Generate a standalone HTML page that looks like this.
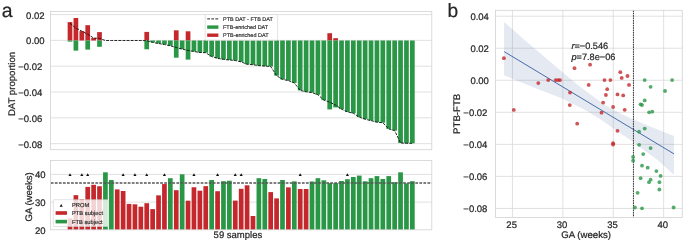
<!DOCTYPE html>
<html>
<head>
<meta charset="utf-8">
<title>Figure</title>
<style>
html,body{margin:0;padding:0;background:#fff;}
svg{display:block;will-change:transform;}
text{font-family:"Liberation Sans",sans-serif;fill:#262626;text-rendering:geometricPrecision;stroke:#262626;stroke-width:0.22px;}
</style>
</head>
<body>
<svg width="685" height="243" viewBox="0 0 685 243">
<rect x="0" y="0" width="685" height="243" fill="#fff"/>
<rect x="50.4" y="11.4" width="381.40" height="138.30" fill="#fff" stroke="none"/>
<line x1="50.4" x2="431.8" y1="143.66" y2="143.66" stroke="#d9d9d9" stroke-width="0.8"/>
<line x1="50.4" x2="431.8" y1="117.84" y2="117.84" stroke="#d9d9d9" stroke-width="0.8"/>
<line x1="50.4" x2="431.8" y1="92.02" y2="92.02" stroke="#d9d9d9" stroke-width="0.8"/>
<line x1="50.4" x2="431.8" y1="66.20" y2="66.20" stroke="#d9d9d9" stroke-width="0.8"/>
<line x1="50.4" x2="431.8" y1="40.38" y2="40.38" stroke="#d9d9d9" stroke-width="0.8"/>
<line x1="50.4" x2="431.8" y1="14.56" y2="14.56" stroke="#d9d9d9" stroke-width="0.8"/>
<rect x="67.65" y="22.10" width="4.7" height="18.40" fill="#c4282c"/>
<rect x="67.65" y="40.50" width="4.7" height="1.10" fill="#2a9747"/>
<rect x="73.55" y="18.00" width="4.7" height="22.50" fill="#c4282c"/>
<rect x="73.55" y="40.50" width="4.7" height="10.15" fill="#2a9747"/>
<rect x="79.46" y="31.10" width="4.7" height="9.40" fill="#c4282c"/>
<rect x="85.36" y="25.20" width="4.7" height="15.30" fill="#c4282c"/>
<rect x="85.36" y="40.50" width="4.7" height="9.10" fill="#2a9747"/>
<rect x="91.26" y="38.00" width="4.7" height="2.50" fill="#c4282c"/>
<rect x="97.16" y="32.10" width="4.7" height="8.40" fill="#c4282c"/>
<rect x="97.16" y="40.50" width="4.7" height="6.30" fill="#2a9747"/>
<rect x="144.38" y="31.90" width="4.7" height="8.60" fill="#c4282c"/>
<rect x="144.38" y="40.50" width="4.7" height="8.80" fill="#2a9747"/>
<rect x="150.29" y="40.50" width="4.7" height="1.90" fill="#2a9747"/>
<rect x="156.19" y="40.50" width="4.7" height="3.00" fill="#2a9747"/>
<rect x="162.09" y="40.50" width="4.7" height="4.00" fill="#2a9747"/>
<rect x="167.99" y="40.50" width="4.7" height="5.30" fill="#2a9747"/>
<rect x="173.90" y="30.30" width="4.7" height="10.20" fill="#c4282c"/>
<rect x="173.90" y="40.50" width="4.7" height="17.20" fill="#2a9747"/>
<rect x="179.80" y="40.50" width="4.7" height="8.60" fill="#2a9747"/>
<rect x="185.70" y="31.30" width="4.7" height="9.20" fill="#c4282c"/>
<rect x="185.70" y="40.50" width="4.7" height="19.10" fill="#2a9747"/>
<rect x="191.60" y="40.50" width="4.7" height="11.00" fill="#2a9747"/>
<rect x="197.51" y="40.50" width="4.7" height="12.00" fill="#2a9747"/>
<rect x="203.41" y="40.50" width="4.7" height="12.20" fill="#2a9747"/>
<rect x="209.31" y="40.50" width="4.7" height="16.00" fill="#2a9747"/>
<rect x="215.22" y="40.50" width="4.7" height="17.80" fill="#2a9747"/>
<rect x="221.12" y="40.50" width="4.7" height="18.90" fill="#2a9747"/>
<rect x="227.02" y="40.50" width="4.7" height="19.50" fill="#2a9747"/>
<rect x="232.92" y="40.50" width="4.7" height="20.00" fill="#2a9747"/>
<rect x="238.83" y="40.50" width="4.7" height="21.40" fill="#2a9747"/>
<rect x="244.73" y="40.50" width="4.7" height="23.75" fill="#2a9747"/>
<rect x="250.63" y="40.50" width="4.7" height="24.25" fill="#2a9747"/>
<rect x="256.53" y="40.50" width="4.7" height="25.10" fill="#2a9747"/>
<rect x="262.44" y="40.50" width="4.7" height="25.60" fill="#2a9747"/>
<rect x="268.34" y="40.50" width="4.7" height="26.00" fill="#2a9747"/>
<rect x="274.24" y="40.50" width="4.7" height="35.15" fill="#2a9747"/>
<rect x="280.14" y="40.50" width="4.7" height="38.90" fill="#2a9747"/>
<rect x="286.05" y="40.50" width="4.7" height="40.10" fill="#2a9747"/>
<rect x="291.95" y="40.50" width="4.7" height="42.40" fill="#2a9747"/>
<rect x="297.85" y="40.50" width="4.7" height="49.90" fill="#2a9747"/>
<rect x="303.75" y="40.50" width="4.7" height="51.30" fill="#2a9747"/>
<rect x="309.66" y="40.50" width="4.7" height="52.10" fill="#2a9747"/>
<rect x="315.56" y="40.50" width="4.7" height="54.20" fill="#2a9747"/>
<rect x="321.46" y="40.50" width="4.7" height="59.60" fill="#2a9747"/>
<rect x="327.36" y="33.20" width="4.7" height="7.30" fill="#c4282c"/>
<rect x="327.36" y="40.50" width="4.7" height="68.90" fill="#2a9747"/>
<rect x="333.27" y="38.20" width="4.7" height="2.30" fill="#c4282c"/>
<rect x="333.27" y="40.50" width="4.7" height="66.90" fill="#2a9747"/>
<rect x="339.17" y="40.50" width="4.7" height="68.60" fill="#2a9747"/>
<rect x="345.07" y="40.50" width="4.7" height="71.40" fill="#2a9747"/>
<rect x="350.97" y="40.50" width="4.7" height="72.70" fill="#2a9747"/>
<rect x="356.88" y="40.50" width="4.7" height="76.60" fill="#2a9747"/>
<rect x="362.78" y="40.50" width="4.7" height="78.70" fill="#2a9747"/>
<rect x="368.68" y="40.50" width="4.7" height="80.10" fill="#2a9747"/>
<rect x="374.59" y="40.50" width="4.7" height="81.70" fill="#2a9747"/>
<rect x="380.49" y="40.50" width="4.7" height="82.20" fill="#2a9747"/>
<rect x="386.39" y="40.50" width="4.7" height="88.40" fill="#2a9747"/>
<rect x="392.29" y="40.50" width="4.7" height="90.10" fill="#2a9747"/>
<rect x="398.20" y="40.50" width="4.7" height="102.50" fill="#2a9747"/>
<rect x="404.10" y="40.50" width="4.7" height="102.80" fill="#2a9747"/>
<rect x="410.00" y="40.50" width="4.7" height="102.80" fill="#2a9747"/>
<rect x="205.2" y="14.6" width="72.4" height="25.6" rx="1" fill="#fff" fill-opacity="0.8" stroke="#d0d0d0" stroke-width="0.6"/>
<path d="M70.00,23.20 L75.90,28.15 L81.81,31.10 L87.71,34.30 L93.61,38.00 L99.51,38.40 L105.42,40.50 L111.32,40.50 L117.22,40.50 L123.12,40.50 L129.03,40.50 L134.93,40.50 L140.83,40.50 L146.73,40.70 L152.64,42.40 L158.54,43.50 L164.44,44.50 L170.34,45.80 L176.25,47.50 L182.15,49.10 L188.05,50.40 L193.95,51.50 L199.86,52.50 L205.76,52.70 L211.66,56.50 L217.56,58.30 L223.47,59.40 L229.37,60.00 L235.27,60.50 L241.18,61.90 L247.08,64.25 L252.98,64.75 L258.88,65.60 L264.79,66.10 L270.69,66.50 L276.59,75.65 L282.49,79.40 L288.40,80.60 L294.30,82.90 L300.20,90.40 L306.10,91.80 L312.01,92.60 L317.91,94.70 L323.81,100.10 L329.71,102.10 L335.62,105.10 L341.52,109.10 L347.42,111.90 L353.32,113.20 L359.23,117.10 L365.13,119.20 L371.03,120.60 L376.94,122.20 L382.84,122.70 L388.74,128.90 L394.64,130.60 L400.55,143.00 L406.45,143.30 L412.35,143.30" fill="none" stroke="#111" stroke-width="0.9" stroke-dasharray="2.85 1.24"/>
<rect x="50.4" y="11.4" width="381.40" height="138.30" fill="none" stroke="#d2d2d2" stroke-width="0.8"/>
<line x1="207.2" x2="218.4" y1="18.9" y2="18.9" stroke="#111" stroke-width="0.9" stroke-dasharray="2.85 1.24"/>
<rect x="207.2" y="25.4" width="11.2" height="3.4" fill="#2a9747"/>
<rect x="207.2" y="33.5" width="11.2" height="3.4" fill="#c4282c"/>
<text x="223.0" y="20.7" style="stroke-width:0.15px" font-size="5.48">PTB DAT - FTB DAT</text>
<text x="223.0" y="29.05" style="stroke-width:0.15px" font-size="5.48">FTB-enriched DAT</text>
<text x="223.0" y="37.2" style="stroke-width:0.15px" font-size="5.48">PTB-enriched DAT</text>
<text x="44.6" y="18.63" text-anchor="end" font-size="9.5">0.02</text>
<text x="44.6" y="44.45" text-anchor="end" font-size="9.5">0.00</text>
<text x="42.3" y="70.07" text-anchor="end" font-size="9.5">−0.02</text>
<text x="42.3" y="95.89" text-anchor="end" font-size="9.5">−0.04</text>
<text x="42.3" y="121.71" text-anchor="end" font-size="9.5">−0.06</text>
<text x="42.3" y="147.53" text-anchor="end" font-size="9.5">−0.08</text>
<text transform="translate(15.1,116.1) rotate(-90)" font-size="9.6">DAT proportion</text>
<text x="1.8" y="17.0" font-size="19.4">a</text>
<rect x="50.4" y="160.4" width="381.40" height="69.40" fill="#fff"/>
<line x1="50.4" x2="431.8" y1="174.4" y2="174.4" stroke="#d9d9d9" stroke-width="0.8"/>
<line x1="50.4" x2="431.8" y1="202.1" y2="202.1" stroke="#d9d9d9" stroke-width="0.8"/>
<rect x="67.65" y="218.35" width="4.7" height="11.45" fill="#c4282c"/>
<rect x="73.55" y="195.15" width="4.7" height="34.65" fill="#c4282c"/>
<rect x="79.46" y="199.30" width="4.7" height="30.50" fill="#c4282c"/>
<rect x="85.36" y="186.90" width="4.7" height="42.90" fill="#c4282c"/>
<rect x="91.26" y="184.80" width="4.7" height="45.00" fill="#c4282c"/>
<rect x="97.16" y="186.25" width="4.7" height="43.55" fill="#c4282c"/>
<rect x="103.07" y="172.30" width="4.7" height="57.50" fill="#2a9747"/>
<rect x="108.97" y="180.00" width="4.7" height="49.80" fill="#2a9747"/>
<rect x="114.87" y="189.40" width="4.7" height="40.40" fill="#c4282c"/>
<rect x="120.77" y="191.00" width="4.7" height="38.80" fill="#c4282c"/>
<rect x="126.68" y="203.90" width="4.7" height="25.90" fill="#c4282c"/>
<rect x="132.58" y="204.30" width="4.7" height="25.50" fill="#c4282c"/>
<rect x="138.48" y="206.70" width="4.7" height="23.10" fill="#c4282c"/>
<rect x="144.38" y="203.20" width="4.7" height="26.60" fill="#c4282c"/>
<rect x="150.29" y="209.10" width="4.7" height="20.70" fill="#c4282c"/>
<rect x="156.19" y="195.35" width="4.7" height="34.45" fill="#c4282c"/>
<rect x="162.09" y="184.05" width="4.7" height="45.75" fill="#c4282c"/>
<rect x="167.99" y="178.20" width="4.7" height="51.60" fill="#2a9747"/>
<rect x="173.90" y="190.20" width="4.7" height="39.60" fill="#c4282c"/>
<rect x="179.80" y="174.30" width="4.7" height="55.50" fill="#2a9747"/>
<rect x="185.70" y="200.70" width="4.7" height="29.10" fill="#c4282c"/>
<rect x="191.60" y="187.25" width="4.7" height="42.55" fill="#c4282c"/>
<rect x="197.51" y="190.70" width="4.7" height="39.10" fill="#c4282c"/>
<rect x="203.41" y="186.15" width="4.7" height="43.65" fill="#c4282c"/>
<rect x="209.31" y="180.00" width="4.7" height="49.80" fill="#2a9747"/>
<rect x="215.22" y="191.20" width="4.7" height="38.60" fill="#c4282c"/>
<rect x="221.12" y="181.20" width="4.7" height="48.60" fill="#2a9747"/>
<rect x="227.02" y="180.70" width="4.7" height="49.10" fill="#2a9747"/>
<rect x="232.92" y="200.60" width="4.7" height="29.20" fill="#c4282c"/>
<rect x="238.83" y="188.80" width="4.7" height="41.00" fill="#c4282c"/>
<rect x="244.73" y="185.30" width="4.7" height="44.50" fill="#c4282c"/>
<rect x="250.63" y="216.00" width="4.7" height="13.80" fill="#c4282c"/>
<rect x="256.53" y="178.20" width="4.7" height="51.60" fill="#2a9747"/>
<rect x="262.44" y="179.00" width="4.7" height="50.80" fill="#2a9747"/>
<rect x="268.34" y="192.10" width="4.7" height="37.70" fill="#c4282c"/>
<rect x="274.24" y="198.40" width="4.7" height="31.40" fill="#c4282c"/>
<rect x="280.14" y="180.00" width="4.7" height="49.80" fill="#2a9747"/>
<rect x="286.05" y="187.35" width="4.7" height="42.45" fill="#c4282c"/>
<rect x="291.95" y="181.40" width="4.7" height="48.40" fill="#2a9747"/>
<rect x="297.85" y="189.00" width="4.7" height="40.80" fill="#c4282c"/>
<rect x="303.75" y="189.00" width="4.7" height="40.80" fill="#c4282c"/>
<rect x="309.66" y="181.50" width="4.7" height="48.30" fill="#2a9747"/>
<rect x="315.56" y="178.20" width="4.7" height="51.60" fill="#2a9747"/>
<rect x="321.46" y="180.30" width="4.7" height="49.50" fill="#2a9747"/>
<rect x="327.36" y="183.10" width="4.7" height="46.70" fill="#2a9747"/>
<rect x="333.27" y="183.10" width="4.7" height="46.70" fill="#2a9747"/>
<rect x="339.17" y="181.00" width="4.7" height="48.80" fill="#2a9747"/>
<rect x="345.07" y="179.20" width="4.7" height="50.60" fill="#2a9747"/>
<rect x="350.97" y="177.00" width="4.7" height="52.80" fill="#2a9747"/>
<rect x="356.88" y="175.60" width="4.7" height="54.20" fill="#2a9747"/>
<rect x="362.78" y="181.30" width="4.7" height="48.50" fill="#2a9747"/>
<rect x="368.68" y="178.20" width="4.7" height="51.60" fill="#2a9747"/>
<rect x="374.59" y="176.10" width="4.7" height="53.70" fill="#2a9747"/>
<rect x="380.49" y="179.00" width="4.7" height="50.80" fill="#2a9747"/>
<rect x="386.39" y="176.10" width="4.7" height="53.70" fill="#2a9747"/>
<rect x="392.29" y="182.30" width="4.7" height="47.50" fill="#2a9747"/>
<rect x="398.20" y="172.30" width="4.7" height="57.50" fill="#2a9747"/>
<rect x="404.10" y="183.30" width="4.7" height="46.50" fill="#2a9747"/>
<rect x="410.00" y="181.20" width="4.7" height="48.60" fill="#2a9747"/>
<line x1="50.4" x2="431.8" y1="182.95" y2="182.95" stroke="#555" stroke-width="1.55" stroke-dasharray="2.75 1.3" stroke-dashoffset="-0.4"/>
<path d="M70.00,173.2 L71.55,176.0 L68.45,176.0 Z" fill="#111"/>
<path d="M81.81,173.2 L83.36,176.0 L80.26,176.0 Z" fill="#111"/>
<path d="M87.71,173.2 L89.26,176.0 L86.16,176.0 Z" fill="#111"/>
<path d="M123.12,173.2 L124.67,176.0 L121.57,176.0 Z" fill="#111"/>
<path d="M134.93,173.2 L136.48,176.0 L133.38,176.0 Z" fill="#111"/>
<path d="M146.73,173.2 L148.28,176.0 L145.18,176.0 Z" fill="#111"/>
<path d="M164.44,173.2 L165.99,176.0 L162.89,176.0 Z" fill="#111"/>
<path d="M193.95,173.2 L195.50,176.0 L192.40,176.0 Z" fill="#111"/>
<path d="M217.56,173.2 L219.12,176.0 L216.01,176.0 Z" fill="#111"/>
<path d="M235.27,173.2 L236.82,176.0 L233.72,176.0 Z" fill="#111"/>
<path d="M241.18,173.2 L242.73,176.0 L239.63,176.0 Z" fill="#111"/>
<path d="M300.20,173.2 L301.75,176.0 L298.65,176.0 Z" fill="#111"/>
<path d="M347.42,173.2 L348.97,176.0 L345.87,176.0 Z" fill="#111"/>
<rect x="50.4" y="160.4" width="381.40" height="69.40" fill="none" stroke="#d2d2d2" stroke-width="0.8"/>
<rect x="53.3" y="199.7" width="55.3" height="26.8" rx="1" fill="#fff" fill-opacity="0.8" stroke="#d0d0d0" stroke-width="0.6"/>
<path d="M61.2,204.0 L62.75,206.8 L59.65,206.8 Z" fill="#111"/>
<rect x="55.6" y="211.2" width="11.4" height="3.6" fill="#c4282c"/>
<rect x="55.6" y="219.8" width="11.4" height="3.6" fill="#2a9747"/>
<text x="72.0" y="207.4" style="stroke-width:0.15px" font-size="5.75">PROM</text>
<text x="72.0" y="215.1" style="stroke-width:0.15px" font-size="5.75">PTB subject</text>
<text x="72.0" y="223.6" style="stroke-width:0.15px" font-size="5.75">FTB subject</text>
<text x="45.5" y="178.40" text-anchor="end" font-size="9.5">40</text>
<text x="45.5" y="206.10" text-anchor="end" font-size="9.5">30</text>
<text x="45.5" y="233.80" text-anchor="end" font-size="9.5">20</text>
<text transform="translate(32.2,221.4) rotate(-90)" font-size="9.5">GA (weeks)</text>
<text x="213.6" y="237.7" font-size="9.5">59 samples</text>
<rect x="495.5" y="10.3" width="186.75" height="207.15" fill="#fff"/>
<line x1="512.45" x2="512.45" y1="10.3" y2="217.45" stroke="#d9d9d9" stroke-width="0.8"/>
<line x1="562.85" x2="562.85" y1="10.3" y2="217.45" stroke="#d9d9d9" stroke-width="0.8"/>
<line x1="613.25" x2="613.25" y1="10.3" y2="217.45" stroke="#d9d9d9" stroke-width="0.8"/>
<line x1="663.65" x2="663.65" y1="10.3" y2="217.45" stroke="#d9d9d9" stroke-width="0.8"/>
<line x1="495.5" x2="682.25" y1="16.20" y2="16.20" stroke="#d9d9d9" stroke-width="0.8"/>
<line x1="495.5" x2="682.25" y1="48.24" y2="48.24" stroke="#d9d9d9" stroke-width="0.8"/>
<line x1="495.5" x2="682.25" y1="80.28" y2="80.28" stroke="#d9d9d9" stroke-width="0.8"/>
<line x1="495.5" x2="682.25" y1="112.32" y2="112.32" stroke="#d9d9d9" stroke-width="0.8"/>
<line x1="495.5" x2="682.25" y1="144.36" y2="144.36" stroke="#d9d9d9" stroke-width="0.8"/>
<line x1="495.5" x2="682.25" y1="176.40" y2="176.40" stroke="#d9d9d9" stroke-width="0.8"/>
<line x1="495.5" x2="682.25" y1="208.44" y2="208.44" stroke="#d9d9d9" stroke-width="0.8"/>
<polygon points="504.1,21.9 524.6,40 554,65 577.9,85 581.7,88 602.8,103.4 616.2,111.2 623.2,115 646.3,125 673.9,136.1 673.9,174.8 657.6,160 630.4,140 613.1,128.2 600.7,119.4 585.3,110.1 562.3,98.4 535,88.1 504.1,75.3" fill="#4a6ba5" fill-opacity="0.15"/>
<line x1="504.2" y1="51.65" x2="674.0" y2="153.9" stroke="#456aa8" stroke-width="0.98"/>
<line x1="633.45" x2="633.45" y1="10.3" y2="217.45" stroke="#262626" stroke-width="0.92" stroke-dasharray="1.7 0.7"/>
<circle cx="503.9" cy="58.2" r="1.92" fill="#c4282c" fill-opacity="0.8"/>
<circle cx="574.5" cy="68.2" r="1.92" fill="#c4282c" fill-opacity="0.8"/>
<circle cx="590.1" cy="64.7" r="1.92" fill="#c4282c" fill-opacity="0.8"/>
<circle cx="538.3" cy="83.1" r="1.92" fill="#c4282c" fill-opacity="0.8"/>
<circle cx="548.2" cy="80.1" r="1.92" fill="#c4282c" fill-opacity="0.8"/>
<circle cx="555.7" cy="80.1" r="1.92" fill="#c4282c" fill-opacity="0.8"/>
<circle cx="558.1" cy="80.1" r="1.92" fill="#c4282c" fill-opacity="0.8"/>
<circle cx="560.0" cy="80.1" r="1.92" fill="#c4282c" fill-opacity="0.8"/>
<circle cx="588.7" cy="84.9" r="1.92" fill="#c4282c" fill-opacity="0.8"/>
<circle cx="570.0" cy="92.6" r="1.92" fill="#c4282c" fill-opacity="0.8"/>
<circle cx="569.8" cy="105.1" r="1.92" fill="#c4282c" fill-opacity="0.8"/>
<circle cx="620.3" cy="72.2" r="1.92" fill="#c4282c" fill-opacity="0.8"/>
<circle cx="627.5" cy="76.0" r="1.92" fill="#c4282c" fill-opacity="0.8"/>
<circle cx="621.7" cy="77.9" r="1.92" fill="#c4282c" fill-opacity="0.8"/>
<circle cx="604.5" cy="80.1" r="1.92" fill="#c4282c" fill-opacity="0.8"/>
<circle cx="610.4" cy="80.1" r="1.92" fill="#c4282c" fill-opacity="0.8"/>
<circle cx="629.0" cy="84.9" r="1.92" fill="#c4282c" fill-opacity="0.8"/>
<circle cx="607.2" cy="89.2" r="1.92" fill="#c4282c" fill-opacity="0.8"/>
<circle cx="605.9" cy="95.0" r="1.92" fill="#c4282c" fill-opacity="0.8"/>
<circle cx="617.5" cy="94.4" r="1.92" fill="#c4282c" fill-opacity="0.8"/>
<circle cx="623.2" cy="95.4" r="1.92" fill="#c4282c" fill-opacity="0.8"/>
<circle cx="603.1" cy="102.6" r="1.92" fill="#c4282c" fill-opacity="0.8"/>
<circle cx="613.1" cy="107.0" r="1.92" fill="#c4282c" fill-opacity="0.8"/>
<circle cx="624.7" cy="109.8" r="1.92" fill="#c4282c" fill-opacity="0.8"/>
<circle cx="601.5" cy="112.7" r="1.92" fill="#c4282c" fill-opacity="0.8"/>
<circle cx="617.5" cy="130.8" r="1.92" fill="#c4282c" fill-opacity="0.8"/>
<circle cx="613.1" cy="143.2" r="1.92" fill="#c4282c" fill-opacity="0.8"/>
<circle cx="613.1" cy="144.5" r="1.92" fill="#c4282c" fill-opacity="0.8"/>
<circle cx="513.8" cy="109.9" r="1.92" fill="#c4282c" fill-opacity="0.8"/>
<circle cx="577.2" cy="123.7" r="1.92" fill="#c4282c" fill-opacity="0.8"/>
<circle cx="644.7" cy="100.4" r="1.92" fill="#2a9747" fill-opacity="0.8"/>
<circle cx="640.6" cy="104.3" r="1.92" fill="#2a9747" fill-opacity="0.8"/>
<circle cx="642.0" cy="105.0" r="1.92" fill="#2a9747" fill-opacity="0.8"/>
<circle cx="649.1" cy="112.3" r="1.92" fill="#2a9747" fill-opacity="0.8"/>
<circle cx="652.3" cy="111.7" r="1.92" fill="#2a9747" fill-opacity="0.8"/>
<circle cx="644.7" cy="128.6" r="1.92" fill="#2a9747" fill-opacity="0.8"/>
<circle cx="639.1" cy="131.7" r="1.92" fill="#2a9747" fill-opacity="0.8"/>
<circle cx="639.1" cy="144.8" r="1.92" fill="#2a9747" fill-opacity="0.8"/>
<circle cx="650.6" cy="148.1" r="1.92" fill="#2a9747" fill-opacity="0.8"/>
<circle cx="643.2" cy="154.1" r="1.92" fill="#2a9747" fill-opacity="0.8"/>
<circle cx="633.1" cy="157.0" r="1.92" fill="#2a9747" fill-opacity="0.8"/>
<circle cx="633.1" cy="160.7" r="1.92" fill="#2a9747" fill-opacity="0.8"/>
<circle cx="642.0" cy="165.7" r="1.92" fill="#2a9747" fill-opacity="0.8"/>
<circle cx="647.7" cy="167.7" r="1.92" fill="#2a9747" fill-opacity="0.8"/>
<circle cx="656.4" cy="171.1" r="1.92" fill="#2a9747" fill-opacity="0.8"/>
<circle cx="660.6" cy="175.9" r="1.92" fill="#2a9747" fill-opacity="0.8"/>
<circle cx="640.6" cy="178.2" r="1.92" fill="#2a9747" fill-opacity="0.8"/>
<circle cx="650.6" cy="179.7" r="1.92" fill="#2a9747" fill-opacity="0.8"/>
<circle cx="649.0" cy="182.2" r="1.92" fill="#2a9747" fill-opacity="0.8"/>
<circle cx="659.4" cy="182.2" r="1.92" fill="#2a9747" fill-opacity="0.8"/>
<circle cx="659.4" cy="189.5" r="1.92" fill="#2a9747" fill-opacity="0.8"/>
<circle cx="637.6" cy="192.8" r="1.92" fill="#2a9747" fill-opacity="0.8"/>
<circle cx="634.9" cy="207.5" r="1.92" fill="#2a9747" fill-opacity="0.8"/>
<circle cx="642.0" cy="208.3" r="1.92" fill="#2a9747" fill-opacity="0.8"/>
<circle cx="673.6" cy="207.5" r="1.92" fill="#2a9747" fill-opacity="0.8"/>
<circle cx="644.7" cy="80.1" r="1.92" fill="#2a9747" fill-opacity="0.8"/>
<circle cx="672.1" cy="80.1" r="1.92" fill="#2a9747" fill-opacity="0.8"/>
<circle cx="650.6" cy="86.8" r="1.92" fill="#2a9747" fill-opacity="0.8"/>
<circle cx="665.0" cy="91.0" r="1.92" fill="#2a9747" fill-opacity="0.8"/>
<rect x="495.5" y="10.3" width="186.75" height="207.15" fill="none" stroke="#d2d2d2" stroke-width="0.8"/>
<text x="488.9" y="20.00" text-anchor="end" font-size="9.5">0.04</text>
<text x="488.9" y="52.04" text-anchor="end" font-size="9.5">0.02</text>
<text x="488.9" y="84.08" text-anchor="end" font-size="9.5">0.00</text>
<text x="487.4" y="115.87" text-anchor="end" font-size="9.5">−0.02</text>
<text x="487.4" y="147.91" text-anchor="end" font-size="9.5">−0.04</text>
<text x="487.4" y="179.95" text-anchor="end" font-size="9.5">−0.06</text>
<text x="487.4" y="211.99" text-anchor="end" font-size="9.5">−0.08</text>
<text x="511.65" y="228.1" text-anchor="middle" font-size="9.5">25</text>
<text x="562.05" y="228.1" text-anchor="middle" font-size="9.5">30</text>
<text x="612.45" y="228.1" text-anchor="middle" font-size="9.5">35</text>
<text x="662.85" y="228.1" text-anchor="middle" font-size="9.5">40</text>
<text x="561.3" y="238.3" font-size="9.65">GA (weeks)</text>
<text transform="translate(460.3,133.9) rotate(-90)" font-size="9.65">PTB-FTB</text>
<text x="447.4" y="17.0" font-size="19.2">b</text>
<text x="571.4" y="48.8" font-size="9.2"><tspan font-style="italic">r</tspan>=−0.546</text>
<text x="571.4" y="59.7" font-size="9.2"><tspan font-style="italic">p</tspan>=7.8e−06</text>
</svg>
</body>
</html>
